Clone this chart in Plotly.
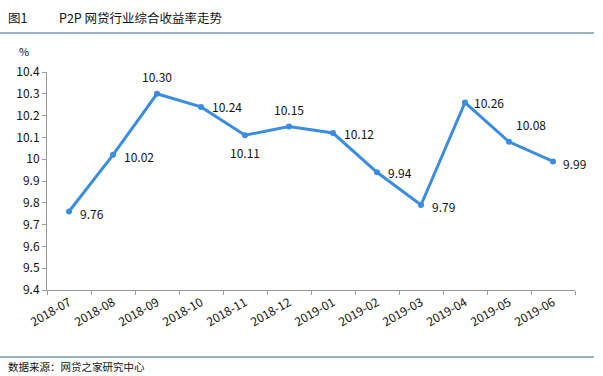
import plotly.graph_objects as go

months = ["2018-07", "2018-08", "2018-09", "2018-10", "2018-11", "2018-12",
          "2019-01", "2019-02", "2019-03", "2019-04", "2019-05", "2019-06"]
rates = [9.76, 10.02, 10.30, 10.24, 10.11, 10.15, 10.12, 9.94, 9.79, 10.26, 10.08, 9.99]
y_ticks = [9.4, 9.5, 9.6, 9.7, 9.8, 9.9, 10.0, 10.1, 10.2, 10.3, 10.4]
y_tick_text = ["9.4", "9.5", "9.6", "9.7", "9.8", "9.9", "10", "10.1", "10.2", "10.3", "10.4"]

# label placement (style): (xanchor, yanchor, xshift, yshift)
label_pos = [("left", "middle", 9, -2), ("left", "middle", 9, -2), ("center", "bottom", 0, 7),
             ("left", "middle", 9, 0), ("center", "top", 0, -7), ("center", "bottom", 0, 7),
             ("left", "middle", 9, 0), ("left", "middle", 9, 0), ("left", "middle", 9, -2),
             ("left", "middle", 7, 0), ("left", "bottom", 5, 7), ("left", "middle", 8, -2)]

BLUE = "rgb(58,141,226)"
FONT = "Noto Sans CJK SC"

fig = go.Figure()
fig.add_trace(go.Scatter(
    x=months, y=rates, mode="lines+markers",
    line=dict(color=BLUE, width=3),
    marker=dict(color=BLUE, size=6),
    hoverinfo="x+y", showlegend=False,
))

annotations = []
for m, v, (xa, ya, xs, ys) in zip(months, rates, label_pos):
    annotations.append(dict(x=m, y=v, xref="x", yref="y", text=f"{v:.2f}",
                            showarrow=False, xanchor=xa, yanchor=ya,
                            xshift=xs, yshift=ys,
                            font=dict(family=FONT, size=12, color="#111")))

W, H = 603, 376
L, R, T, B = 47, 28, 72, 86
pw, ph = W - L - R, H - T - B

def px_to_paper(px, py):
    return (px - L) / pw, (H - B - py) / ph

texts = [
    (6, 17, "图1", "left", 12.5),
    (57, 17, "P2P 网贷行业综合收益率走势", "left", 12.5),
    (24, 51, "%", "center", 11),
    (6, 366, "数据来源：网贷之家研究中心", "left", 10.5),
]
for px, py, t, xa, sz in texts:
    x, y = px_to_paper(px, py)
    annotations.append(dict(x=x, y=y, xref="paper", yref="paper", text=t, showarrow=False,
                            xanchor=xa, yanchor="middle",
                            font=dict(family=FONT, size=sz, color="#111")))

def hline(py, x0, x1):
    xa, ya = px_to_paper(x0, py)
    xb, _ = px_to_paper(x1, py)
    return dict(type="line", xref="paper", yref="paper",
                x0=xa, x1=xb, y0=ya, y1=ya,
                line=dict(color="rgb(50,105,145)", width=1.2))

fig.update_layout(
    width=W, height=H,
    margin=dict(l=L, r=R, t=T, b=B),
    paper_bgcolor="white", plot_bgcolor="white",
    annotations=annotations,
    shapes=[hline(33, 0, 594), hline(357, 0, 594)],
    font=dict(family=FONT, size=11, color="#111"),
    xaxis=dict(type="category", range=[-0.5, len(months) - 0.5],
               tickangle=-30, tickson="boundaries",
               ticks="outside", ticklen=4, tickcolor="#999",
               showline=True, linecolor="#999", linewidth=1,
               showgrid=False, tickfont=dict(family=FONT, size=12, color="#111")),
    yaxis=dict(range=[9.4, 10.4], tickvals=y_ticks, ticktext=y_tick_text,
               ticks="outside", ticklen=4, tickcolor="#999",
               showline=True, linecolor="#999", linewidth=1,
               showgrid=False, zeroline=False,
               tickfont=dict(family=FONT, size=12, color="#111")),
)

fig.write_html("out.html", config={"displayModeBar": False},
               post_script="document.body.style.margin='0';document.body.style.overflow='hidden';")
